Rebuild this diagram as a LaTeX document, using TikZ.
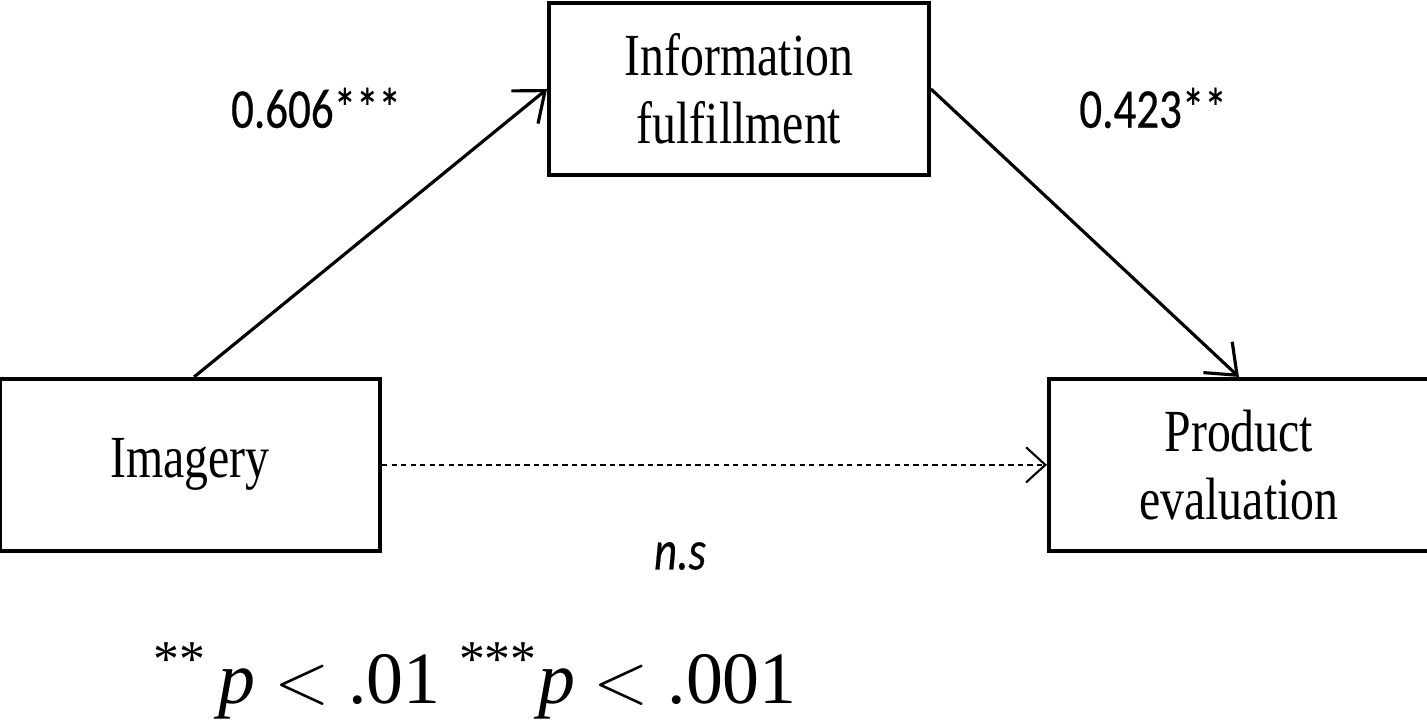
\documentclass[tikz,border=0pt]{standalone}
\usepackage{fontspec}
\setmainfont{Liberation Serif}
\newfontfamily\boxfont[FakeStretch=0.8]{Liberation Serif}
\newfontfamily\coeffont[FakeStretch=0.8, FakeBold=0.4]{Carlito}
\usetikzlibrary{positioning, arrows.meta}

\begin{document}
\begin{tikzpicture}[x=1cm, y=1cm,
  var/.style={draw, line width=1.1pt, minimum width=3.8cm, minimum height=1.72cm,
    align=center, inner sep=0pt, font=\boxfont\fontsize{17}{19.5}\selectfont},
  path/.style={line width=0.9pt, -{Straight Barb[length=7.5pt, width=12pt, line width=0.9pt]}},
  coef/.style={font=\coeffont\fontsize{16}{18}\selectfont}]
  \useasboundingbox (0,0) rectangle (14.27,-7.2);

  \node[var] (I) at (7.39,-0.89) {Information\\fulfillment};
  \node[var, below left = 2cm and 1.65cm of I]  (X)  {Imagery};
  \node[var, below right = 2cm and 1.16cm of I] (Y)  {Product\\evaluation};

  \node[coef] (a) at (3.16,-1.08) {0.606***};
  \node[coef] (b) at (11.53,-1.08) {0.423**};
  \node[coef, font=\coeffont\itshape\fontsize{16}{18}\selectfont] (c) at (6.8,-5.56) {n.s};
  \node[font=\fontsize{21}{24}\selectfont] (note) at (4.75,-6.81)
    {\textsuperscript{**}\,\textit{p} $<$ .01 \textsuperscript{***}\textit{p} $<$ .001};

  \draw[path] (X.north) ++(0.04,0) coordinate (x0) (x0) -- (I.west);
  \draw[path] (I.east) -- (Y.north);
  \draw[line width=0.6pt, dash pattern=on 1.5pt off 1.2pt,
    -{Straight Barb[length=5.5pt, width=10pt, line width=0.6pt]}] (X.east) -- (Y.west);
\end{tikzpicture}
\end{document}
